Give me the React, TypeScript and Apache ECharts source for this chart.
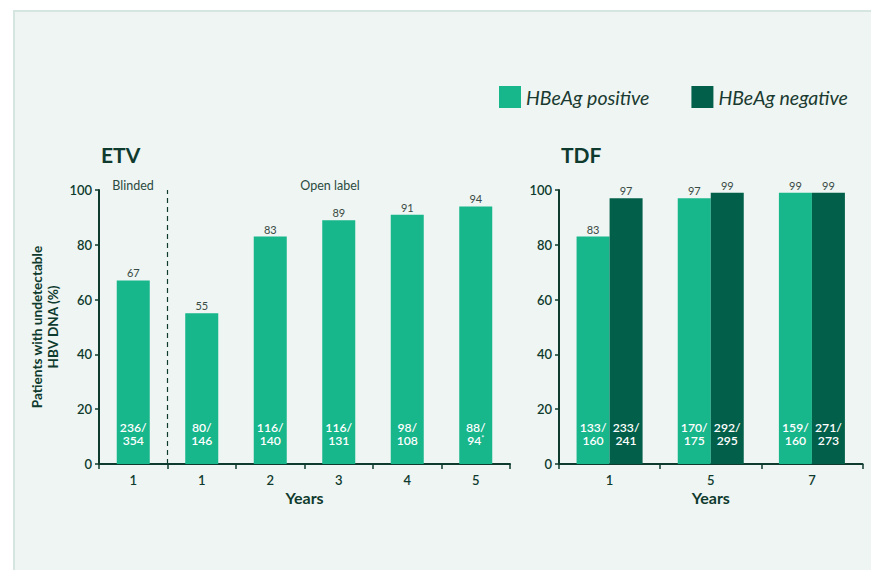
import React, { useEffect, useRef } from "react";
import * as echarts from "echarts";

const etvYears = ["1", "1", "2", "3", "4", "5"];
const etvValues = [67, 55, 83, 89, 91, 94];
const etvResponders = [236, 80, 116, 116, 98, 88];
const etvTotals = [354, 146, 140, 131, 108, 94];
const etvFootnotes = ["", "", "", "", "", "*"];
const etvBlindedCount = 1; // number of blinded categories before the divider

const tdfYears = ["1", "5", "7"];
const tdfPositive = [83, 97, 99];
const tdfNegative = [97, 99, 99];
const tdfPosResponders = [133, 170, 159];
const tdfPosTotals = [160, 175, 160];
const tdfNegResponders = [233, 292, 271];
const tdfNegTotals = [241, 295, 273];

const yMin = 0;
const yMax = 100;
const yInterval = 20;

const LIGHT = "#17b68b";
const DARK = "#02604a";
const INK = "#0f3a2e";
const FONT = "Lato";

const nLabel = (resp: number[], tot: number[], foot?: string[]) => (p: any) => {
  const i = p.dataIndex;
  const f = foot && foot[i] ? `{s|${foot[i]}}` : "";
  return `{n|${resp[i]}/}\n{n|${tot[i]}}${f}`;
};

const nRich = {
  n: { color: "#ffffff", fontSize: 12.2, fontWeight: 600, lineHeight: 12.5, fontFamily: FONT },
  s: { color: "#ffffff", fontSize: 7, lineHeight: 12.5, fontFamily: FONT, verticalAlign: "top" as const },
};

const topLabel = {
  show: true,
  position: "top" as const,
  distance: 2,
  color: "#3a4a44",
  fontSize: 11,
  fontFamily: FONT,
};

const insideLabel = (fmt: any) => ({
  show: true,
  position: "insideBottom" as const,
  distance: 17.5,
  formatter: fmt,
  rich: nRich,
});

const baseY = (gridIndex: number, withName: boolean) => ({
  type: "value" as const,
  gridIndex,
  min: yMin,
  max: yMax,
  interval: yInterval,
  name: withName ? "Patients with undetectable\nHBV DNA (%)" : "",
  nameLocation: "middle" as const,
  nameGap: 38,
  nameRotate: 90,
  nameTextStyle: { color: INK, fontSize: 13.6, fontWeight: "bold" as const, fontFamily: FONT, lineHeight: 16 },
  axisLine: { show: true, lineStyle: { color: INK, width: 2 } },
  axisTick: { show: true, length: 4, lineStyle: { color: INK, width: 1.5 } },
  axisLabel: { color: INK, fontSize: 13, fontWeight: 600, fontFamily: FONT, margin: 7 },
  splitLine: { show: false },
});

const baseX = (gridIndex: number, data: string[]) => ({
  type: "category" as const,
  gridIndex,
  data,
  name: "Years",
  nameLocation: "middle" as const,
  nameGap: 25,
  nameTextStyle: { color: INK, fontSize: 16, fontWeight: "bold" as const, fontFamily: FONT },
  axisLine: { show: true, lineStyle: { color: INK, width: 2 } },
  axisTick: { show: true, length: 5, lineStyle: { color: INK, width: 1.5 } },
  axisLabel: { color: INK, fontSize: 13, fontWeight: 600, fontFamily: FONT, margin: 9 },
  splitLine: { show: false },
});

export default function App() {
  const ref = useRef<HTMLDivElement>(null);

  useEffect(() => {
    document.body.style.margin = "0";
    const chart = echarts.init(ref.current!, null, { renderer: "svg" });
    chart.setOption({
      animation: false,
      backgroundColor: "transparent",
      textStyle: { fontFamily: FONT },
      title: [
        { text: "ETV", left: 101, top: 144, padding: 0, textStyle: { color: INK, fontSize: 21, fontWeight: "bold", fontFamily: FONT } },
        { text: "TDF", left: 561, top: 144, padding: 0, textStyle: { color: INK, fontSize: 21, fontWeight: "bold", fontFamily: FONT } },
      ],
      legend: {
        data: ["HBeAg positive", "HBeAg negative"],
        left: 499,
        top: 86,
        padding: 0,
        itemWidth: 22,
        itemHeight: 22,
        itemGap: 42,
        icon: "rect",
        selectedMode: false,
        textStyle: { color: "#1a3a31", fontSize: 19.5, fontStyle: "italic", fontFamily: FONT },
      },
      grid: [
        { left: 99, top: 190, width: 411, height: 274, containLabel: false },
        { left: 559, top: 190, width: 303.5, height: 274, containLabel: false },
      ],
      xAxis: [
        baseX(0, etvYears),
        baseX(1, tdfYears),
        { type: "category", gridIndex: 0, data: etvYears, show: false },
        { type: "category", gridIndex: 1, data: tdfYears, show: false },
        { type: "value", gridIndex: 0, min: 0, max: etvYears.length, show: false },
      ],
      yAxis: [baseY(0, true), baseY(1, false)],
      graphic: [
        { type: "text", x: 133, y: 185, style: { text: "Blinded", fill: "#2a4a40", fontSize: 12.5, fontFamily: FONT, textAlign: "center", textVerticalAlign: "middle" } },
        { type: "text", x: 330, y: 185, style: { text: "Open label", fill: "#2a4a40", fontSize: 12.5, fontFamily: FONT, textAlign: "center", textVerticalAlign: "middle" } },
      ],
      series: [
        {
          name: "ETV",
          type: "bar",
          xAxisIndex: 0,
          yAxisIndex: 0,
          data: etvValues,
          barWidth: 33,
          itemStyle: { color: LIGHT },
          label: topLabel,
        },
        {
          name: "HBeAg positive",
          type: "bar",
          xAxisIndex: 1,
          yAxisIndex: 1,
          data: tdfPositive,
          barWidth: 33,
          barGap: "0%",
          itemStyle: { color: LIGHT },
          label: topLabel,
        },
        {
          name: "HBeAg negative",
          type: "bar",
          xAxisIndex: 1,
          yAxisIndex: 1,
          data: tdfNegative,
          barWidth: 33,
          barGap: "0%",
          itemStyle: { color: DARK },
          label: topLabel,
        },
        {
          name: "etvN",
          type: "bar",
          xAxisIndex: 2,
          yAxisIndex: 0,
          data: etvValues,
          barWidth: 33,
          silent: true,
          itemStyle: { color: "transparent" },
          label: insideLabel(nLabel(etvResponders, etvTotals, etvFootnotes)),
        },
        {
          name: "tdfPosN",
          type: "bar",
          xAxisIndex: 3,
          yAxisIndex: 1,
          data: tdfPositive,
          barWidth: 33,
          barGap: "0%",
          silent: true,
          itemStyle: { color: "transparent" },
          label: insideLabel(nLabel(tdfPosResponders, tdfPosTotals)),
        },
        {
          name: "tdfNegN",
          type: "bar",
          xAxisIndex: 3,
          yAxisIndex: 1,
          data: tdfNegative,
          barWidth: 33,
          barGap: "0%",
          silent: true,
          itemStyle: { color: "transparent" },
          label: insideLabel(nLabel(tdfNegResponders, tdfNegTotals)),
        },
        {
          name: "divider",
          type: "line",
          xAxisIndex: 4,
          yAxisIndex: 0,
          data: [
            [etvBlindedCount, yMin],
            [etvBlindedCount, yMax],
          ],
          symbol: "none",
          silent: true,
          z: 1,
          lineStyle: { color: INK, width: 1.2, type: [5, 4] },
        },
      ],
    });
    return () => chart.dispose();
  }, []);

  return (
    <div style={{ position: "fixed", left: 0, top: 0, width: 871, height: 570, background: "#ffffff", overflow: "hidden" }}>
      <div
        style={{
          position: "absolute",
          left: 13,
          top: 10,
          width: 856,
          height: 580,
          background: "#eef5f2",
          borderLeft: "2px solid #d4e6df",
          borderTop: "2px solid #d4e6df",
          borderRight: "2px solid #d4e6df",
        }}
      />
      <div ref={ref} style={{ position: "absolute", left: 0, top: 0, width: 871, height: 570 }} />
    </div>
  );
}
